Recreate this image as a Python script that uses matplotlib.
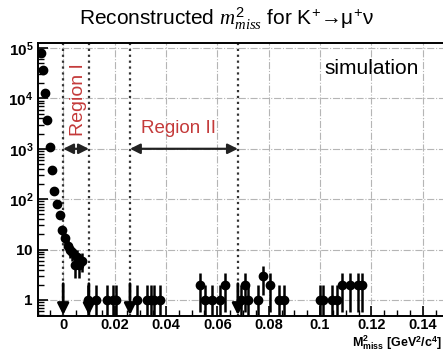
import numpy as np
import matplotlib.pyplot as plt
from matplotlib.ticker import FixedLocator, MultipleLocator, LogLocator, NullFormatter

plt.rcParams['font.family'] = ['Liberation Sans', 'DejaVu Sans']
plt.rcParams['mathtext.fontset'] = 'custom'
plt.rcParams['mathtext.rm'] = 'Liberation Sans'
plt.rcParams['mathtext.bf'] = 'Liberation Sans:bold'
plt.rcParams['mathtext.it'] = 'Liberation Serif:italic'

# reconstructed m2_miss histogram (simulation)
x_pts = [-0.0086, -0.0079, -0.0070, -0.0062, -0.0052, -0.0043, -0.0034, -0.0023,
         -0.0013, -0.0003, 0.0006, 0.0017, 0.0025, 0.0033, 0.0045, 0.0054, 0.0063,
         0.0075,
         0.0095, 0.0127, 0.0172, 0.0192, 0.0205, 0.0287, 0.0326, 0.0340, 0.0354,
         0.0375, 0.0533, 0.0553, 0.0581, 0.0611, 0.0629, 0.0691, 0.0708, 0.0719,
         0.0760, 0.0779, 0.0807, 0.0840, 0.0858, 0.1000, 0.1013, 0.1045, 0.1065,
         0.1084, 0.1117, 0.1147, 0.1162]
y_pts = [80000, 37000, 13000, 3700, 1100, 380, 145, 80,
         49, 24, 17, 12, 10, 9, 5, 7, 5,
         6,
         1, 1, 1, 1, 1, 1, 1, 1, 1,
         1, 2, 1, 1, 1, 2, 1, 2, 1,
         1, 3, 2, 1, 1, 1, 1, 1, 1,
         2, 2, 2, 2]

# region boundaries
cut_lines = [0.0, 0.01, 0.026, 0.068]
region1 = (0.0, 0.01)
region2 = (0.026, 0.068)

xt = [0, 0.02, 0.04, 0.06, 0.08, 0.1, 0.12, 0.14]
xt_labels = ['0', '0.02', '0.04', '0.06', '0.08', '0.1', '0.12', '0.14']
yt = [1, 10, 100, 1000, 10000, 100000]
yt_labels = [r'$\mathbf{1}$', r'$\mathbf{10}$', r'$\mathbf{10^{2}}$', r'$\mathbf{10^{3}}$',
             r'$\mathbf{10^{4}}$', r'$\mathbf{10^{5}}$']

fig = plt.figure(figsize=(4.43, 3.52), dpi=100)
ax = fig.add_axes([37.5 / 443, 36 / 352, 411 / 443, 273 / 352])
ax.set_yscale('log')
ax.set_xlim(-0.01, 0.15)
ax.set_ylim(0.479, 1.26e5)

ax.grid(True, which='major', color='#b5b5b5', linestyle='-.', linewidth=0.8)
ax.set_axisbelow(True)

# cut lines with arrows at the bottom
for c in cut_lines:
    ax.axvline(c, color='#333333', linestyle=':', linewidth=1.6, zorder=2)
    ax.annotate('', xy=(c, 0.5), xytext=(c, 2.1),
                arrowprops=dict(arrowstyle='-|>', color='black', lw=2.0,
                                mutation_scale=17, shrinkA=0, shrinkB=0), zorder=4)

y = np.array(y_pts, dtype=float)
err = np.sqrt(y)
lo = np.minimum(err, y - 1e-3)
ax.errorbar(x_pts, y, yerr=[lo, err], fmt='o', color='black', ms=6,
            elinewidth=1.8, capsize=0, zorder=5)

# region arrows
for r in (region1, region2):
    ax.annotate('', xy=(r[0], 1000), xytext=(r[1], 1000),
                arrowprops=dict(arrowstyle='<|-|>', color='#222222', lw=1.6,
                                mutation_scale=15, shrinkA=0, shrinkB=0), zorder=4)
red = '#c43a3a'
ax.text(0.006, 9500, 'Region I', color=red, rotation=90, fontsize=14,
        ha='center', va='center')
ax.text(0.0449, 2500, 'Region II', color=red, fontsize=13.5, ha='center', va='center')
ax.text(0.12, 3.9e4, 'simulation', color='black', fontsize=15, ha='center', va='center')

ax.xaxis.set_major_locator(FixedLocator(xt))
ax.set_xticklabels(xt_labels, fontweight='bold', fontsize=10.5)
ax.xaxis.set_minor_locator(MultipleLocator(0.005))
ax.yaxis.set_major_locator(FixedLocator(yt))
ax.set_yticklabels(yt_labels, fontsize=11)
ax.yaxis.set_minor_locator(LogLocator(base=10, subs=np.arange(2, 10)))
ax.yaxis.set_minor_formatter(NullFormatter())
ax.tick_params(which='major', direction='in', length=7, width=1.2, top=False, right=False)
ax.tick_params(which='minor', direction='in', length=4, width=1.0, top=False, right=False)
ax.tick_params(axis='x', pad=1.5)
ax.tick_params(axis='y', pad=3)
for s in ax.spines.values():
    s.set_linewidth(1.4)

fig.text(0.51, 1 - 19 / 352, r'Reconstructed $m^{2}_{miss}$ for K$^{+}$→μ$^{+}$ν',
         ha='center', va='center', fontsize=15)
fig.text(0.998, 0.5 / 352, r'$\mathbf{M^{2}_{miss}}$ [GeV$^{\mathbf{2}}$/c$^{\mathbf{4}}$]',
         ha='right', va='bottom', fontsize=9, fontweight='bold')

fig.savefig('out.png', dpi=100)
